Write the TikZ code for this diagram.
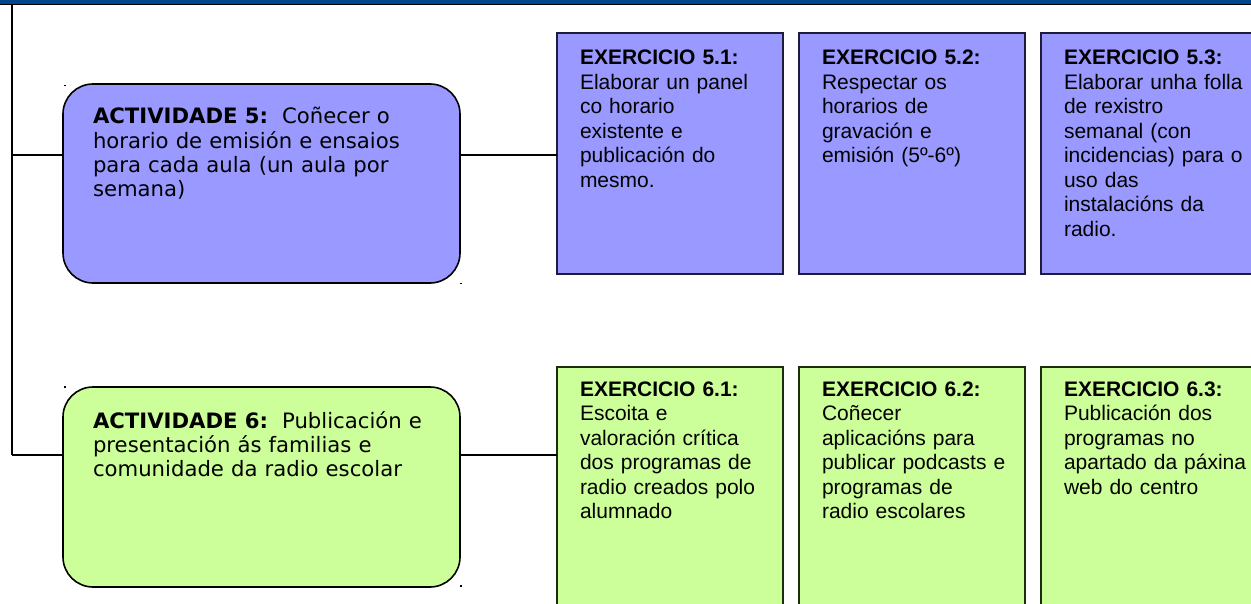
\documentclass[tikz,border=0pt]{standalone}
\usepackage{fontspec}
\newfontfamily\actfont{DejaVu Sans}
\newfontfamily\exfont{Liberation Sans}
\definecolor{barblue}{HTML}{00468C}
\definecolor{actpurple}{HTML}{9999FF}
\definecolor{actgreen}{HTML}{CCFF99}
\definecolor{purpleline}{HTML}{1C1C40}
\definecolor{greenline}{HTML}{1A2E0C}
\usetikzlibrary{positioning}
\tikzset{
	actbox/.style={draw=black, line width=1.6pt, rounded corners=30pt, anchor=north west,
		outer sep=0pt, inner xsep=30pt, inner ysep=24pt, text width=337pt,
		text height=16pt, text depth=135pt, align=left,
		font=\actfont\fontsize{21.2}{24.3}\selectfont}
}
\tikzset{
	exbox/.style={line width=2pt, anchor=north west, outer sep=0pt,
		inner xsep=18pt, inner ysep=17pt, text width=190pt,
		text height=15pt, text depth=192pt, align=left,
		execute at begin node={\leftskip=5pt\relax},
		font=\exfont\fontsize{21}{24.5}\selectfont}
}
\tikzset{
	wire/.style={draw=black, line width=1.3pt}
}
\tikzset{
	trunkline/.style={draw=black, line width=2pt}
}

\begin{document}
\begin{tikzpicture}[x=1pt,y=-1pt]
\useasboundingbox (0,0) rectangle (1251,604);
\clip (0,0) rectangle (1251,604);

\fill[barblue] (0,0) rectangle (1251,4);
\draw[line width=1.5pt] (0,4.75) -- (1251,4.75);

\coordinate (aA) at (63,84);
\coordinate (aB) at (63,387);
\coordinate (eA) at (557,33);
\coordinate (eB) at (557,367);
\coordinate (trunk) at (12,5);
\coordinate (j5) at (12,155);
\coordinate (j6) at (12,455);

\node[actbox, fill=actpurple] (act5) at (aA) {\textbf{ACTIVIDADE 5:}\ \ Coñecer o\\horario de emisión e ensaios\\para cada aula (un aula por\\semana)};
\node[actbox, fill=actgreen, text height=17pt] (act6) at (aB) {\textbf{ACTIVIDADE 6:}\ \ Publicación e\\presentación ás familias e\\comunidade da radio escolar};

\node[exbox, fill=actpurple, draw=purpleline] (ex51) at (eA) {\textbf{EXERCICIO 5.1:}\\Elaborar un panel\\co horario\\existente e\\publicación do\\mesmo.};
\node[exbox, fill=actpurple, draw=purpleline, right=16pt of ex51] (ex52) {\textbf{EXERCICIO 5.2:}\\Respectar os\\horarios de\\gravación e\\emisión (5º-6º)};
\node[exbox, fill=actpurple, draw=purpleline, right=16pt of ex52] (ex53) {\textbf{EXERCICIO 5.3:}\\Elaborar unha folla\\de rexistro\\semanal (con\\incidencias) para o\\uso das\\instalacións da\\radio.};

\node[exbox, fill=actgreen, draw=greenline, text height=12pt, text depth=230pt] (ex61) at (eB) {\textbf{EXERCICIO 6.1:}\\Escoita e\\valoración crítica\\dos programas de\\radio creados polo\\alumnado};
\node[exbox, fill=actgreen, draw=greenline, text height=12pt, text depth=230pt, right=16pt of ex61] (ex62) {\textbf{EXERCICIO 6.2:}\\Coñecer\\aplicacións para\\publicar podcasts e\\programas de\\radio escolares};
\node[exbox, fill=actgreen, draw=greenline, text height=12pt, text depth=230pt, right=16pt of ex62] (ex63) {\textbf{EXERCICIO 6.3:}\\Publicación dos\\programas no\\apartado da páxina\\web do centro};

% tree lines
\draw[trunkline] (trunk) -- (j6);
\draw[wire] (j6) -- (act6.west |- j6);
\draw[wire] (j5) -- (act5.west |- j5);
\draw[wire] (act5.east |- j5) -- (ex51.west |- j5);
\draw[wire] (act6.east |- j6) -- (ex61.west |- j6);

\foreach \x/\y in {64/85, 460/283, 64/386, 460/585}
	\fill (\x,\y) rectangle ++(1.5,1.5);

\end{tikzpicture}
\end{document}
